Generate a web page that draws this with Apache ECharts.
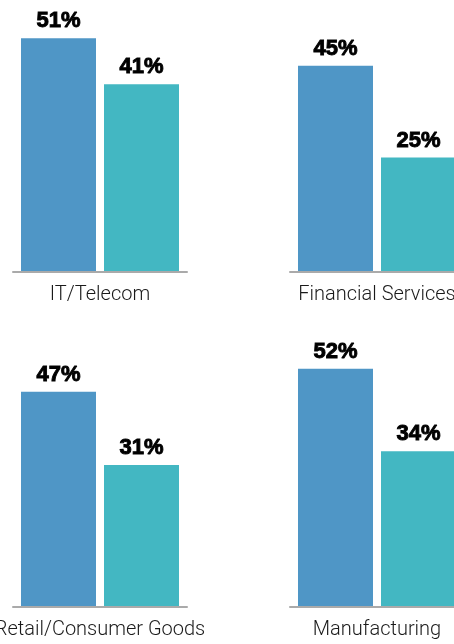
<!DOCTYPE html>
<html>
<head>
<meta charset="utf-8">
<script src="https://cdn.jsdelivr.net/npm/echarts@6/dist/echarts.min.js"></script>
<style>
    html, body { margin: 0; padding: 0; background: #fff; }
    #main { width: 454px; height: 644px; }
</style>
</head>
<body>
<div id="main"></div>
<script type="text/javascript">
    // data
    var categories = ['IT/Telecom', 'Financial Services', 'Retail/Consumer Goods', 'Manufacturing'];
    var firstValues = [51, 45, 47, 52];
    var secondValues = [41, 25, 31, 34];

    // panel layout: left, top (grid), 2x2
    var panels = [
        { left: 13, top: 20 },
        { left: 290, top: 20 },
        { left: 13, top: 355 },
        { left: 290, top: 355 }
    ];

    var myChart = echarts.init(document.getElementById('main'));

    var grids = [], xAxes = [], yAxes = [], series = [];
    var valueLabel = {
        show: true,
        position: 'top',
        distance: 6,
        formatter: '{c}%',
        fontFamily: 'Liberation Sans',
        fontWeight: 'bold',
        fontSize: 22,
        color: '#000',
        textBorderColor: '#000',
        textBorderWidth: 0.9
    };

    panels.forEach(function (p, i) {
        grids.push({
            left: p.left, top: p.top, width: 174, height: 252,
            outerBoundsMode: 'none', containLabel: false
        });
        xAxes.push({
            type: 'category',
            gridIndex: i,
            data: [categories[i]],
            z: 3,
            axisLine: { lineStyle: { color: '#aaaaaa', width: 2 } },
            axisTick: { show: false },
            axisLabel: {
                interval: 0,
                margin: 13,
                fontFamily: 'Roboto',
                fontWeight: 300,
                fontSize: 20,
                color: '#1a1a1a'
            }
        });
        yAxes.push({
            type: 'value',
            gridIndex: i,
            min: 0,
            max: 55,
            show: false,
            splitLine: { show: false }
        });
        series.push({
            type: 'bar',
            xAxisIndex: i,
            yAxisIndex: i,
            data: [firstValues[i]],
            barWidth: 75,
            barGap: '10.67%',
            itemStyle: { color: '#4f96c6' },
            label: valueLabel
        });
        series.push({
            type: 'bar',
            xAxisIndex: i,
            yAxisIndex: i,
            data: [secondValues[i]],
            barWidth: 75,
            barGap: '10.67%',
            itemStyle: { color: '#43b7c2' },
            label: valueLabel
        });
    });

    var option = {
        animation: false,
        grid: grids,
        xAxis: xAxes,
        yAxis: yAxes,
        series: series
    };

    myChart.setOption(option);
</script>
</body>
</html>
